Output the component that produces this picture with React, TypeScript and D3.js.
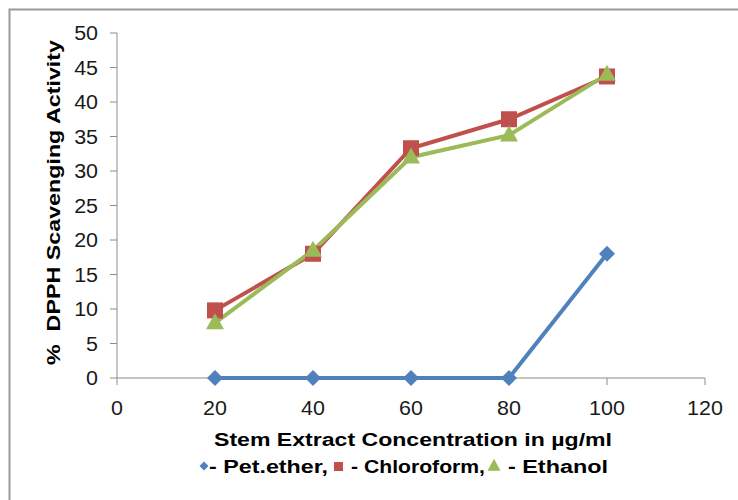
import React from "react";
import * as d3 from "d3";

const concentrations = [20, 40, 60, 80, 100];
const petEther = [0, 0, 0, 0, 18];
const chloroform = [9.8, 18, 33.3, 37.5, 43.7];
const ethanol = [8, 18.5, 32, 35.2, 44];
const xTicks = [0, 20, 40, 60, 80, 100, 120];
const yTicks = [0, 5, 10, 15, 20, 25, 30, 35, 40, 45, 50];

const BLUE = "#4F81BD";
const RED = "#C0504D";
const GREEN = "#9BBB59";
const FONT = "'Liberation Sans', Arial, sans-serif";

export default function App() {
  const W = 738, H = 500;
  const x = d3.scaleLinear().domain([0, 120]).range([117, 705]);
  const y = d3.scaleLinear().domain([0, 50]).range([378, 33]);
  const line = d3.line<number>().x((_, i) => x(concentrations[i])).y((d) => y(d));

  const diamond = (cx: number, cy: number, r: number) =>
    `M${cx},${cy - r}L${cx + r},${cy}L${cx},${cy + r}L${cx - r},${cy}Z`;
  const tri = (cx: number, cy: number, w: number, h: number) =>
    `M${cx},${cy - h * 0.6}L${cx + w / 2},${cy + h * 0.4}L${cx - w / 2},${cy + h * 0.4}Z`;

  return (
    <svg width={W} height={H} style={{ position: "absolute", left: 0, top: 0, background: "#fff" }}>
      <rect x={0} y={0} width={W} height={H} fill="#fff" />
      <path d={`M9.5,${H}V9.5H${W}`} fill="none" stroke="#9a9a9a" strokeWidth={2} />
      {/* axes */}
      <line x1={x(0)} x2={x(0)} y1={y(50)} y2={y(0)} stroke="#8c8c8c" strokeWidth={1} />
      <line x1={x(0)} x2={x(120)} y1={y(0)} y2={y(0)} stroke="#8c8c8c" strokeWidth={1} />
      {yTicks.map((t) => (
        <g key={"y" + t}>
          <line x1={x(0) - 7} x2={x(0)} y1={y(t)} y2={y(t)} stroke="#8c8c8c" />
          <text
            transform={`translate(${x(0) - 19},${y(t)}) scale(1.1,1)`}
            dy="0.36em"
            textAnchor="end"
            fontFamily={FONT}
            fontSize={19.5}
            fill="#1a1a1a"
          >
            {t}
          </text>
        </g>
      ))}
      {xTicks.map((t) => (
        <g key={"x" + t}>
          <line x1={x(t)} x2={x(t)} y1={y(0)} y2={y(0) + 7} stroke="#8c8c8c" />
          <text
            transform={`translate(${x(t)},${y(0) + 37}) scale(1.1,1)`}
            textAnchor="middle"
            fontFamily={FONT}
            fontSize={19.5}
            fill="#1a1a1a"
          >
            {t}
          </text>
        </g>
      ))}
      {/* lines */}
      <path d={line(chloroform) || ""} fill="none" stroke={RED} strokeWidth={4} />
      <path d={line(ethanol) || ""} fill="none" stroke={GREEN} strokeWidth={4} />
      <path d={line(petEther) || ""} fill="none" stroke={BLUE} strokeWidth={4} />
      {petEther.map((v, i) => (
        <path key={"p" + i} d={diamond(x(concentrations[i]), y(v), 8)} fill={BLUE} />
      ))}
      {chloroform.map((v, i) => (
        <rect key={"c" + i} x={x(concentrations[i]) - 8} y={y(v) - 8} width={16} height={16} fill={RED} />
      ))}
      {ethanol.map((v, i) => (
        <path key={"e" + i} d={tri(x(concentrations[i]), y(v), 18, 16)} fill={GREEN} />
      ))}
      {/* axis titles */}
      <text
        x={214}
        y={446}
        textLength={398}
        lengthAdjust="spacingAndGlyphs"
        fontFamily={FONT}
        fontWeight="bold"
        fontSize={18}
        fill="#000"
      >
        Stem Extract Concentration in µg/ml
      </text>
      <text
        transform={`translate(60,365) rotate(-90)`}
        textLength={325}
        lengthAdjust="spacingAndGlyphs"
        fontFamily={FONT}
        fontWeight="bold"
        fontSize={18}
        fill="#000"
        xmlSpace="preserve"
      >
        {"%  DPPH Scavenging Activity"}
      </text>
      {/* legend */}
      <path d={diamond(204, 466, 4.5)} fill={BLUE} />
      <text x={209} y={473} textLength={119} lengthAdjust="spacingAndGlyphs" fontFamily={FONT} fontWeight="bold" fontSize={18} fill="#000">- Pet.ether,</text>
      <rect x={334} y={462} width={9} height={9} fill={RED} />
      <text x={351} y={473} textLength={134} lengthAdjust="spacingAndGlyphs" fontFamily={FONT} fontWeight="bold" fontSize={18} fill="#000">- Chloroform,</text>
      <path d={tri(494, 466, 13, 12)} fill={GREEN} />
      <text x={508} y={473} textLength={100} lengthAdjust="spacingAndGlyphs" fontFamily={FONT} fontWeight="bold" fontSize={18} fill="#000">- Ethanol</text>
    </svg>
  );
}
